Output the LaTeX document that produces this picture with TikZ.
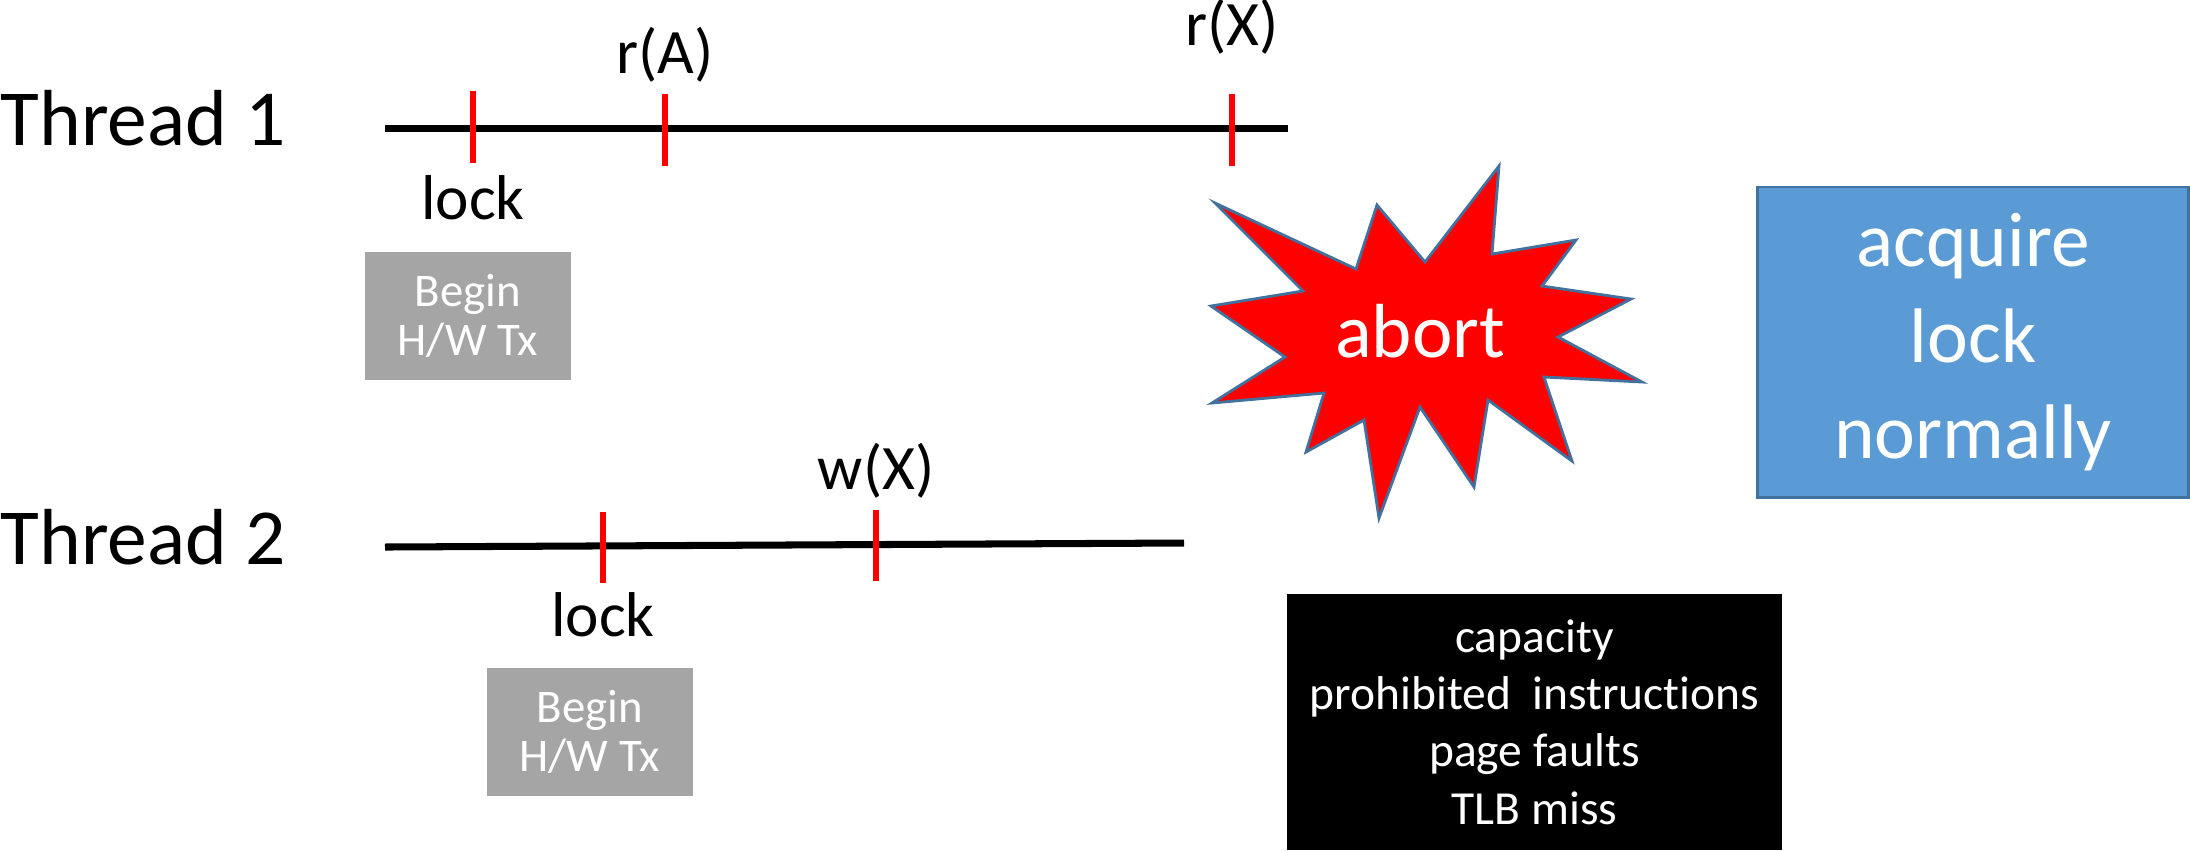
\documentclass[tikz,border=0pt]{standalone}
\usepackage{fontspec}
\setmainfont{Carlito}[Ligatures={NoCommon,NoContextual}]
\usetikzlibrary{positioning}

\definecolor{fallblue}{HTML}{5B9BD5}
\definecolor{falledge}{HTML}{41719C}
\definecolor{txgray}{HTML}{A5A5A5}

\begin{document}
\begin{tikzpicture}[
    x=0.01cm, y=-0.01cm,
    timeline/.style={line width=2pt},
    evt/.style={fill=red, inner sep=0, minimum width=1.5pt, minimum height=0.71cm},
    thlabel/.style={font=\fontsize{22.6}{27}\selectfont, anchor=base west, inner sep=0},
    evlabel/.style={font=\fontsize{18}{22}\selectfont, inner sep=0},
    txbox/.style={fill=txgray, text=white, minimum width=2.06cm, minimum height=1.28cm,
        align=center, inner sep=0, font=\fontsize{13.3}{13.9}\selectfont},
    burst/.style={fill=red, draw=falledge, line width=0.8pt, line join=miter},
    fallback/.style={fill=fallblue, draw=falledge, line width=0.8pt, text=white,
        minimum width=4.31cm, minimum height=3.1cm, align=center, inner sep=0,
        font=\fontsize{22}{27.2}\selectfont},
    causes/.style={fill=black, text=white, minimum width=4.94cm, minimum height=2.56cm,
        align=center, inner sep=0, font=\fontsize{13.5}{16.3}\selectfont}
]
    \useasboundingbox (0,0) rectangle (2190,850);

    % Thread labels
    \node[thlabel] (th1) at (0,145) {Thread 1};
    \node[thlabel] (th2) at (0,564) {Thread 2};

    % Time lines
    \coordinate (t1s) at (385,128);
    \coordinate (t1e) at (1288,128);
    \coordinate (t2s) at (385,547);
    \coordinate (t2e) at (1184,543);
    \draw[timeline] (t1s) -- (t1e);
    \draw[timeline] (t2s) -- (t2e);

    % Events on the time lines
    \node[evt] (lk1) at (473,127) {};
    \node[evt] (ra) at (665,130) {};
    \node[evt] (rx) at (1232,130) {};
    \node[evt] (lk2) at (603,547) {};
    \node[evt] (wx) at (876,545) {};

    % Event labels - relative to the events
    \node[evlabel, below=0.12cm of lk1] (lk1l) {lock};
    \node[evlabel, above=0.11cm of ra] (ral) {r(A)};
    \node[evlabel, above=0.39cm of rx] (rxl) {r(X)};
    \node[evlabel, below=0.09cm of lk2] (lk2l) {lock};
    \node[evlabel, above=0.10cm of wx] (wxl) {w(X)};

    % Transaction begin boxes
    \node[txbox, below=0.3cm of lk1l, xshift=-0.05cm] (beg1) {Begin\\H/W Tx};
    \node[txbox, below=0.29cm of lk2l, xshift=-0.13cm] (beg2) {Begin\\H/W Tx};

    % Abort burst
    \draw[burst] (1215,203) -- (1356,269) -- (1377,205) -- (1425,262) -- (1499,166)
        -- (1492,254) -- (1576,240) -- (1542,286) -- (1631,299) -- (1558,337)
        -- (1642,382) -- (1544,377) -- (1572,461) -- (1488,400) -- (1474,487)
        -- (1420,407) -- (1379,518) -- (1364,420) -- (1306,452) -- (1324,393)
        -- (1212,403) -- (1285,357) -- (1211,306) -- (1303,291) -- cycle;
    \node[text=white, inner sep=0, anchor=base, font=\fontsize{21.8}{26}\selectfont] (abort) at (1420,357) {abort};

    % Fallback path and abort causes
    \node[fallback] (fall) at (1973,342) {acquire\\lock\\normally};
    \node[causes] (cause) at (1534.5,722) {capacity\\prohibited~ instructions\\page faults\\TLB miss};
\end{tikzpicture}
\end{document}
